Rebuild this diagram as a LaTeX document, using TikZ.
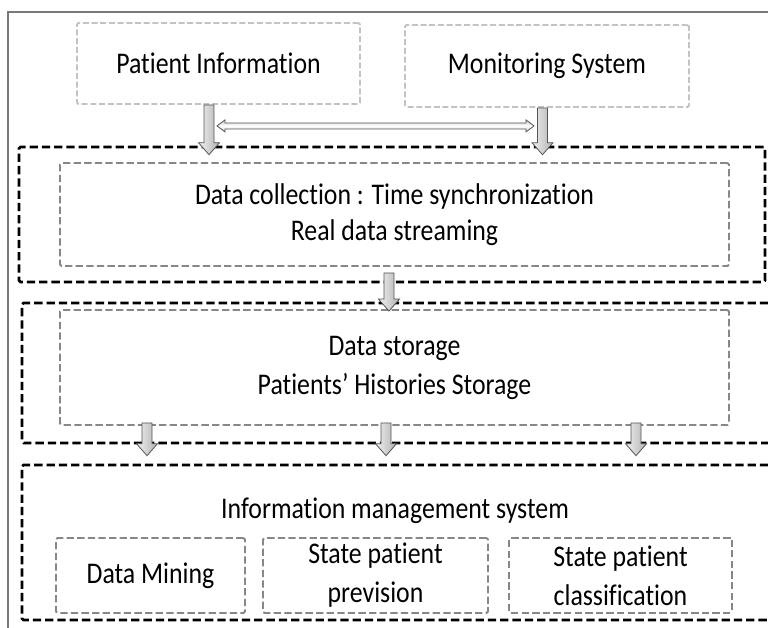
\documentclass[tikz,border=0pt]{standalone}
\usepackage{fontspec}
\setmainfont[FakeStretch=0.86, Ligatures=NoCommon]{Carlito}
\usetikzlibrary{calc}
\tikzset{>=latex}
\tikzset{
  frame/.style={draw={rgb,255:red,120;green,120;blue,120}, line width=1.3pt},
  srcbox/.style={draw={rgb,255:red,195;green,195;blue,195}, line width=1.8pt, dash pattern=on 6pt off 2.7pt, rounded corners=1.5pt, align=center},
  inbox/.style={draw={rgb,255:red,135;green,135;blue,135}, line width=1.9pt, dash pattern=on 7.3pt off 3.3pt, rounded corners=1.5pt, align=center},
  layer/.style={draw=black, line width=2.6pt, dash pattern=on 8.3pt off 4pt, rounded corners=1.5pt},
  fatarrow/.style={draw={rgb,255:red,85;green,85;blue,85}, line width=0.8pt, line join=miter},
}
% fat hollow arrows
\newcommand\fatdown[2]{%
  \draw[fatarrow, left color=gray!12, right color=gray!60]
    let \p1=#1, \p2=#2 in
    (\x1-5pt,\y1) -- (\x1+5pt,\y1) -- (\x1+5pt,\y2+12pt) -- (\x1+10.5pt,\y2+12pt)
    -- (\x1,\y2) -- (\x1-10.5pt,\y2+12pt) -- (\x1-5pt,\y2+12pt) -- cycle;}
\newcommand\fatboth[2]{%
  \draw[fatarrow, top color=gray!40, bottom color=gray!40, middle color=white]
    let \p1=#1, \p2=#2 in
    (\x1,\y1) -- (\x1+8pt,\y1+6pt) -- (\x1+8pt,\y1+3pt) -- (\x2-8pt,\y1+3pt) -- (\x2-8pt,\y1+6pt)
    -- (\x2,\y1) -- (\x2-8pt,\y1-6pt) -- (\x2-8pt,\y1-3pt) -- (\x1+8pt,\y1-3pt) -- (\x1+8pt,\y1-6pt) -- cycle;}

\begin{document}
\begin{tikzpicture}[x=1pt, y=-1pt, font=\fontsize{30}{39}\selectfont]
\useasboundingbox (0,0) rectangle (768,627);
\draw[frame] (8,12) rectangle (800,660);

% sources
\node[srcbox, minimum width=283, minimum height=81] (pinfo) at (218.5,63.5) {Patient Information};
\node[srcbox, minimum width=284, minimum height=82] (monsys) at (547,66) {Monitoring System};

% layers
\node[layer, minimum width=746, minimum height=135] (layer1) at (392,214.5) {};
\node[layer, minimum width=760, minimum height=140] (layer2) at (402,373) {};
\node[layer, minimum width=760, minimum height=155] (layer3) at (402,542.5) {};

\node[inbox, minimum width=669, minimum height=103] (collect) at (394.5,214.5) {\raisebox{-3pt}{Data collection : Time synchronization}\\Real data streaming};
\node[inbox, minimum width=669, minimum height=115] (storage) at (394.5,367.5) {Data storage\\Patients’ Histories Storage};
\node (infosys) at (395,511) {Information management system};
\node[inbox, minimum width=189, minimum height=75] (mining) at (150.5,575.5) {\raisebox{-4pt}{Data Mining}};
\node[inbox, minimum width=225, minimum height=75] (prevision) at (375.5,575.5) {State patient\\prevision};
\node[inbox, minimum width=223, minimum height=75] (classif) at (620.5,575.5) {State patient\\classification};

% arrows
\fatdown{([xshift=-9.5pt]pinfo.south)}{([yshift=-9pt]layer1.north)}
\fatdown{([xshift=-4.5pt]monsys.south)}{([yshift=-9pt]layer1.north)}
\coordinate (bothl) at ($(pinfo.south)+(-1.5,21)$);
\coordinate (bothr) at ($(monsys.south)+(-13,18)$);
\fatboth{(bothl)}{(bothr)}
\fatdown{([xshift=-5.5pt,yshift=-6pt]collect.south)}{([yshift=-2pt]storage.north)}
\foreach \dx in {-247.5,-8.5,241.5}
  {\fatdown{([xshift=\dx pt,yshift=3pt]storage.south)}{([yshift=8pt]layer3.north)}}
\end{tikzpicture}
\end{document}
